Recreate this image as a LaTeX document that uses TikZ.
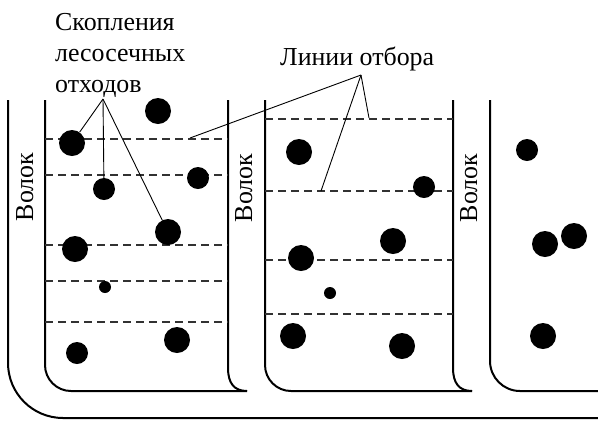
\documentclass[tikz,border=0pt]{standalone}
\usepackage{fontspec}
\setmainfont{Liberation Serif}
\newfontfamily\capfont{Liberation Serif}
\usetikzlibrary{positioning}
\definecolor{CutGray}{RGB}{50,50,50}
\tikzset{
  wall/.style={line width=2bp, draw=black},
  cutline/.style={draw=CutGray, line width=1.1bp, dash pattern=on 8bp off 5bp},
  pointer/.style={line width=0.9bp, draw=black},
  pile/.style={circle, fill=black, inner sep=0pt, minimum size=26bp},
  midpile/.style={pile, minimum size=22bp},
  smallpile/.style={pile, minimum size=12bp},
  caption/.style={font=\capfont\fontsize{26}{31}\selectfont, inner sep=0pt},
  wallname/.style={caption, rotate=90, anchor=base}
}

\begin{document}
\begin{tikzpicture}[x=1bp, y=-1bp]
  \useasboundingbox (0,0) rectangle (598,420);

  % skid trails and strips
  \draw[wall, rounded corners=55bp] (8,100) -- (8,418) -- (598,418);
  \draw[wall, rounded corners=26bp] (247,391) -- (45,391) -- (45,100);
  \draw[wall] (228,100) -- (228,368) .. controls (228,383) and (234,391) .. (247,391);
  \draw[wall, rounded corners=26bp] (472,391) -- (265,391) -- (265,100);
  \draw[wall] (453,100) -- (453,368) .. controls (453,383) and (459,391) .. (472,391);
  \draw[wall, rounded corners=30bp] (490,100) -- (490,391) -- (598,391);

  % sampling lines
  \foreach \y in {139,175,245,281,322}
    \draw[cutline] (45,\y) -- (228,\y);
  \foreach \y in {119,191,260,314}
    \draw[cutline] (265,\y) -- (453,\y);

  % piles of logging residues
  \node[pile] (c1) at (72,143) {};
  \node[pile] (c2) at (158,111) {};
  \node[midpile] (c3) at (104,189) {};
  \node[midpile] (c4) at (198,178) {};
  \node[pile] (c5) at (168,232) {};
  \node[pile] (c6) at (75,249) {};
  \node[smallpile] (c7) at (105,287) {};
  \node[midpile] (c8) at (77,353) {};
  \node[pile] (c9) at (177,340) {};

  \node[pile] (d1) at (299,152) {};
  \node[midpile] (d2) at (424,187) {};
  \node[pile] (d3) at (393,241) {};
  \node[pile] (d4) at (301,258) {};
  \node[smallpile] (d5) at (330,293) {};
  \node[pile] (d6) at (293,336) {};
  \node[pile] (d7) at (402,346) {};

  \node[midpile] (e1) at (527,150) {};
  \node[pile] (e2) at (545,244) {};
  \node[pile] (e3) at (574,236) {};
  \node[pile] (e4) at (543,336) {};

  % labels
  \node[wallname] (w1) at (33,187) {Волок};
  \node[wallname] (w2) at (252,188) {Волок};
  \node[wallname] (w3) at (477,188) {Волок};

  \node[caption, anchor=north west, align=left] (piles) at (55,13)
    {Скопления\\лесосечных\\отходов};
  \node[caption, anchor=base west] (lines) at (280,65) {Линии отбора};

  \coordinate (pilesTip) at (103,99);
  \coordinate (linesTip) at (361,75);
  \coordinate (ln1) at (190,138);
  \coordinate (ln2) at (321,191);
  \coordinate (ln3) at (369,118);

  \draw[pointer] (pilesTip) -- (c1);
  \draw[pointer] (pilesTip) -- (c3);
  \draw[pointer] (pilesTip) -- (c5);
  \draw[pointer] (linesTip) -- (ln1);
  \draw[pointer] (linesTip) -- (ln2);
  \draw[pointer] (linesTip) -- (ln3);
\end{tikzpicture}
\end{document}
